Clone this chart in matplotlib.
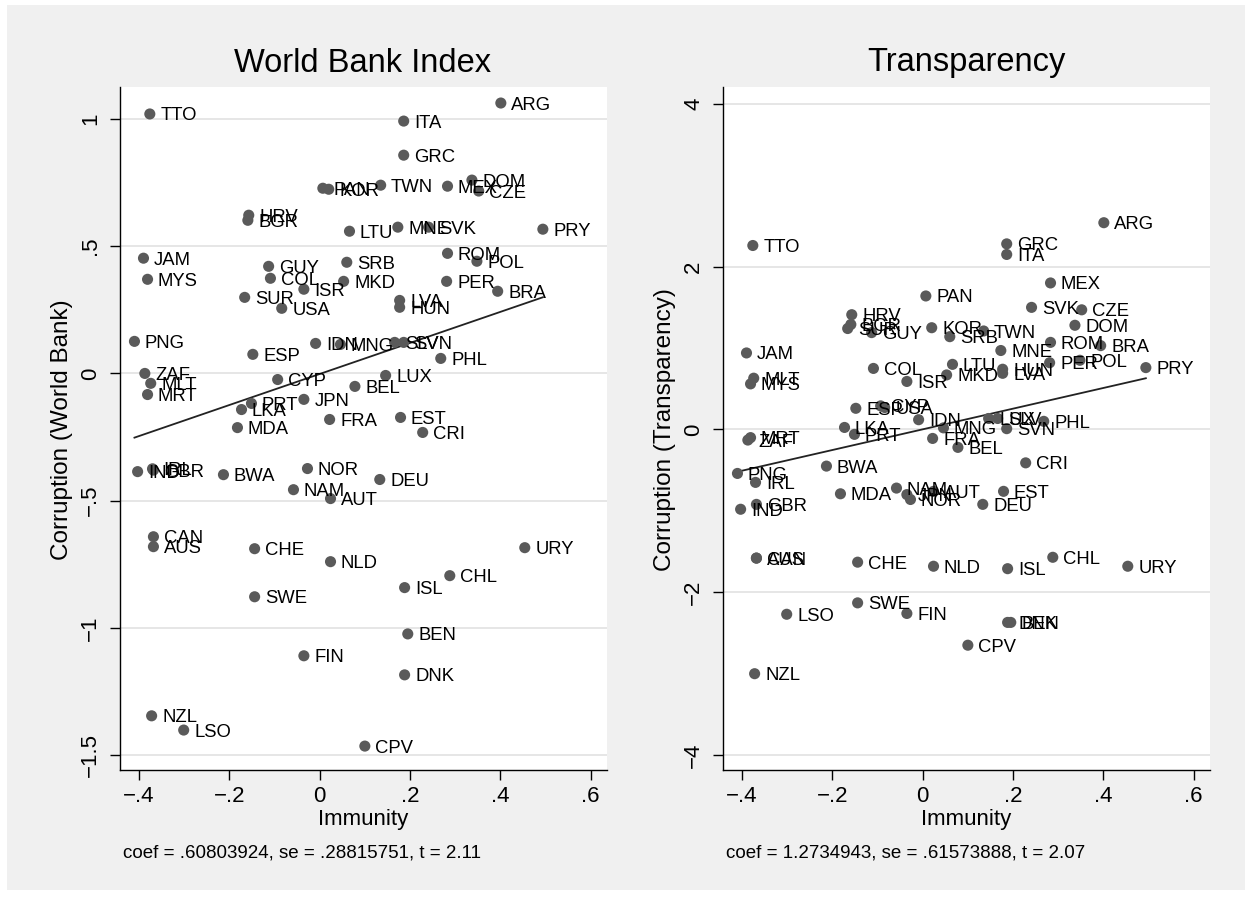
import numpy as np
import matplotlib
matplotlib.use('Agg')
import matplotlib.pyplot as plt
from matplotlib.patches import Rectangle

plt.rcParams.update({
    'font.family': ['Liberation Sans', 'DejaVu Sans'],
    'axes.unicode_minus': True,
})

# ── data ──────────────────────────────────────────────────────────────────
countries = ['TTO', 'ARG', 'ITA', 'GRC', 'DOM', 'MEX', 'CZE', 'TWN', 'PAN', 'KOR',
             'HRV', 'BGR', 'LTU', 'MNE', 'SVK', 'PRY', 'JAM', 'MYS', 'GUY', 'COL',
             'ISR', 'SRB', 'MKD', 'SUR', 'USA', 'ROM', 'POL', 'PER', 'BRA', 'LVA',
             'HUN', 'PNG', 'ESP', 'IDN', 'MNG', 'SLV', 'SVN', 'PHL', 'LUX', 'ZAF',
             'MLT', 'MRT', 'CYP', 'BEL', 'JPN', 'PRT', 'LKA', 'MDA', 'FRA', 'EST',
             'CRI', 'IND', 'IRL', 'GBR', 'BWA', 'NOR', 'NAM', 'AUT', 'DEU', 'CAN',
             'AUS', 'CHE', 'NLD', 'URY', 'CHL', 'ISL', 'SWE', 'BEN', 'FIN', 'DNK',
             'NZL', 'LSO', 'CPV']

immunity = [-0.376, 0.401, 0.186, 0.186, 0.337, 0.283, 0.352, 0.135, 0.007, 0.020,
            -0.157, -0.159, 0.066, 0.173, 0.241, 0.494, -0.390, -0.381, -0.113, -0.109,
            -0.035, 0.060, 0.053, -0.166, -0.084, 0.283, 0.348, 0.281, 0.394, 0.177,
            0.177, -0.410, -0.148, -0.009, 0.046, 0.166, 0.186, 0.268, 0.146, -0.387,
            -0.374, -0.381, -0.093, 0.078, -0.035, -0.151, -0.173, -0.182, 0.022, 0.179,
            0.228, -0.403, -0.370, -0.368, -0.213, -0.027, -0.058, 0.024, 0.133, -0.368,
            -0.368, -0.144, 0.024, 0.454, 0.288, 0.188, -0.144, 0.195, -0.035, 0.188,
            -0.372, -0.301, 0.100]

corr_wb = [1.020, 1.063, 0.992, 0.858, 0.760, 0.736, 0.717, 0.740, 0.728, 0.724,
           0.622, 0.602, 0.559, 0.575, 0.575, 0.567, 0.453, 0.370, 0.421, 0.374,
           0.331, 0.437, 0.362, 0.299, 0.256, 0.472, 0.441, 0.362, 0.323, 0.287,
           0.260, 0.126, 0.075, 0.118, 0.114, 0.122, 0.122, 0.059, -0.008, 0.000,
           -0.039, -0.083, -0.024, -0.051, -0.102, -0.118, -0.142, -0.213, -0.181, -0.173,
           -0.232, -0.386, -0.375, -0.380, -0.398, -0.374, -0.457, -0.492, -0.417, -0.642,
           -0.681, -0.689, -0.740, -0.685, -0.795, -0.842, -0.878, -1.024, -1.110, -1.185,
           -1.346, -1.402, -1.465]

corr_ti = [2.26, 2.54, 2.15, 2.28, 1.28, 1.80, 1.47, 1.21, 1.64, 1.25,
           1.41, 1.29, 0.80, 0.97, 1.50, 0.76, 0.94, 0.56, 1.19, 0.75,
           0.59, 1.14, 0.67, 1.24, 0.27, 1.07, 0.85, 0.82, 1.03, 0.69,
           0.74, -0.54, 0.26, 0.12, 0.02, 0.135, 0.01, 0.10, 0.135, -0.13,
           0.63, -0.10, 0.29, -0.22, -0.80, -0.06, 0.025, -0.79, -0.11, -0.76,
           -0.41, -0.98, -0.65, -0.92, -0.45, -0.86, -0.72, -0.76, -0.92, -1.58,
           -1.58, -1.63, -1.68, -1.68, -1.57, -1.71, -2.13, -2.37, -2.26, -2.37,
           -3.00, -2.27, -2.65]

xticks = [-0.4, -0.2, 0, 0.2, 0.4, 0.6]
xticklabels = ['\u2212.4', '\u2212.2', '0', '.2', '.4', '.6']
wb_ticks = [-1.5, -1, -0.5, 0, 0.5, 1]
wb_ticklabels = ['\u22121.5', '\u22121', '\u2212.5', '0', '.5', '1']
ti_ticks = [-4, -2, 0, 2, 4]
ti_ticklabels = ['\u22124', '\u22122', '0', '2', '4']

panels = [
    dict(y=corr_wb, title='World Bank Index', ylabel='Corruption (World Bank)',
         ticks=wb_ticks, ticklabels=wb_ticklabels, ylim=(-1.559, 1.126),
         coef='coef = .60803924, se = .28815751, t = 2.11', left=120),
    dict(y=corr_ti, title='Transparency', ylabel='Corruption (Transparency)',
         ticks=ti_ticks, ticklabels=ti_ticklabels, ylim=(-4.183, 4.207),
         coef='coef = 1.2734943, se = .61573888, t = 2.07', left=723),
]

W, H = 1250, 901
BG = '#f0f0f0'
MARK = '#5a5a5a'
GRID = '#e4e4e4'

fig = plt.figure(figsize=(W / 100, H / 100), dpi=100, facecolor='white')
fig.patches.append(Rectangle((7 / W, 1 - 890 / H), 1238 / W, 885 / H,
                             transform=fig.transFigure, facecolor=BG,
                             edgecolor='none', zorder=-10))

x_all = np.array(immunity)
for p in panels:
    y_all = np.array(p['y'], dtype=float)
    ax = fig.add_axes([p['left'] / W, 1 - 770 / H, 487 / W, 683 / H])
    ax.set_facecolor('white')
    for s in ['top', 'right']:
        ax.spines[s].set_visible(False)
    for s in ['left', 'bottom']:
        ax.spines[s].set_linewidth(1.0)
        ax.spines[s].set_color('black')

    ax.set_xlim(-0.442, 0.636)
    ax.set_ylim(*p['ylim'])
    ax.set_xticks(xticks)
    ax.set_xticklabels(xticklabels, fontsize=16)
    ax.set_yticks(p['ticks'])
    ax.set_yticklabels(p['ticklabels'], fontsize=16, rotation=90, va='center')
    ax.tick_params(axis='both', direction='out', length=7.5, width=1.0, pad=4)
    ax.tick_params(axis='y', pad=6)
    ax.yaxis.grid(True, color=GRID, lw=1.3)
    ax.set_axisbelow(True)

    ok = ~np.isnan(y_all)
    xs, ys = x_all[ok], y_all[ok]
    b, a = np.polyfit(xs, ys, 1)
    xx = np.array([xs.min(), xs.max()])
    ax.plot(xx, a + b * xx, color='#222222', lw=1.3, zorder=2)

    ax.scatter(xs, ys, s=64, color=MARK, edgecolors='none', zorder=3)
    for c, xv, yv in zip(np.array(countries)[ok], xs, ys):
        ax.annotate(c, (xv, yv), xytext=(7.5, -4.7), textcoords='offset points',
                    ha='left', va='baseline', fontsize=13.3, color='black',
                    zorder=4, annotation_clip=False)

    cx = (p['left'] + 243) / W
    fig.text(cx, 1 - 63 / H, p['title'], ha='center', va='center', fontsize=23.5)
    fig.text(cx, 1 - 820 / H, 'Immunity', ha='center', va='center', fontsize=16)
    fig.text((p['left'] - 58) / W, 1 - 430 / H, p['ylabel'], rotation=90,
             ha='center', va='center', fontsize=17.5)
    fig.text((p['left'] + 3) / W, 1 - 853 / H, p['coef'], ha='left',
             va='center', fontsize=13.5)

fig.savefig('out.png', dpi=100, facecolor='white')
